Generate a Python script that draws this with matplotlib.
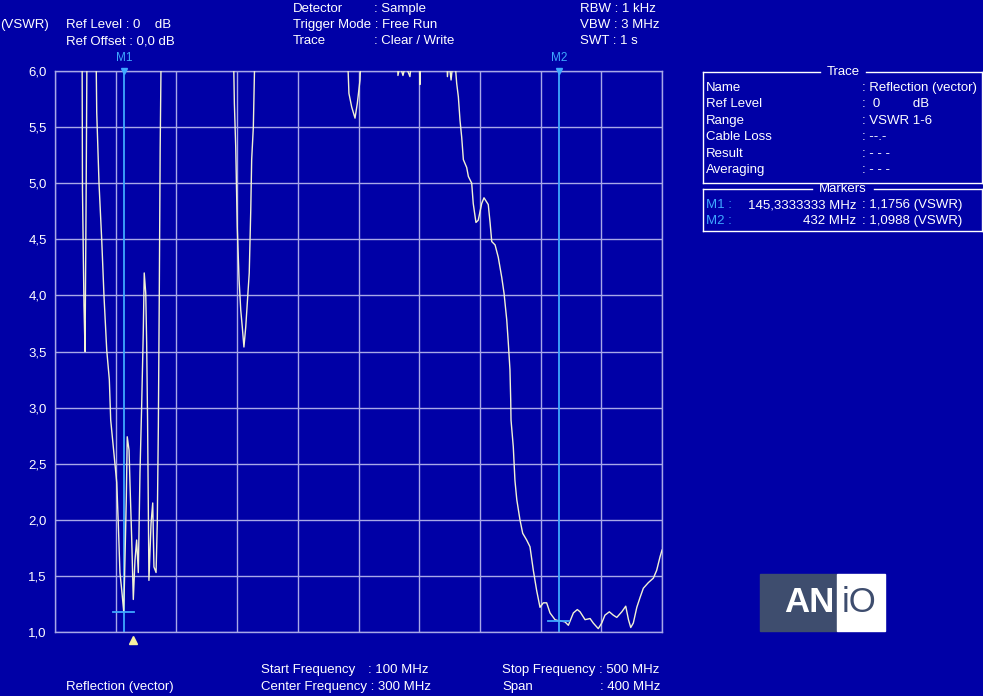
import matplotlib.pyplot as plt
import numpy as np
from matplotlib.patches import Rectangle
from matplotlib.lines import Line2D

# Trace data (frequency in MHz, VSWR); values above 6 are off-scale (clipped)
freq_mhz = [
    100.0, 117.8, 118.1, 119.1, 119.8, 120.5, 121.2,
    126.8, 127.5, 129.0, 130.8, 132.3, 134.1, 135.8, 136.7, 138.4, 140.7,
    141.7, 142.8, 144.0, 145.0, 145.3, 146.1, 147.0, 147.6, 148.8, 149.4,
    150.5, 151.6, 152.7, 153.8, 154.9, 156.0, 157.1, 158.2, 158.8, 159.8,
    160.4, 161.0, 161.9, 163.3, 164.4, 165.2, 166.6, 167.4, 168.1, 168.7,
    169.3, 170.2,
    217.2, 218.2, 219.1, 220.1, 221.3, 222.4, 223.4, 224.5, 225.7, 226.7,
    228.0, 229.0, 229.6, 230.7, 232.2,
    291.8, 293.7, 295.5, 297.7, 299.2, 301.0, 302.5,
    325.5, 326.0, 327.3, 329.3, 331.0, 333.9, 335.0, 340.0, 340.5, 341.0,
    358.1, 358.6, 359.5, 361.0, 362.0, 363.5,
    364.7, 365.8, 366.9, 368.0, 369.1, 371.3, 372.4, 374.6, 375.6, 377.4,
    378.9, 381.2, 382.7, 385.5, 386.7, 387.8, 390.0, 392.1, 394.4, 395.9,
    397.7, 398.7, 399.8, 400.3, 400.5, 402.0, 403.1, 404.3, 406.4, 408.2,
    410.8, 413.0, 415.2, 417.4, 419.6, 421.8, 424.0, 426.2, 429.5, 432.0,
    432.8, 436.1, 438.3, 441.6, 444.2, 446.0, 449.3, 452.6, 454.7, 458.0,
    460.3, 462.4, 465.3, 467.9, 470.2, 473.5, 476.1, 477.9, 479.4, 481.1,
    483.4, 485.6, 487.7, 491.0, 494.3, 496.5, 498.7, 500.0,
]
vswr = [
    6.5, 6.5, 4.94, 3.91, 3.50, 4.85, 6.5,
    6.5, 5.63, 5.00, 4.49, 3.99, 3.51, 3.25, 2.89, 2.65, 2.33,
    1.97, 1.53, 1.37, 1.22, 1.18, 1.64, 2.20, 2.74, 2.62, 2.33,
    1.85, 1.29, 1.64, 1.82, 1.53, 2.42, 3.01, 3.69, 4.20, 4.02,
    3.58, 2.89, 1.46, 1.97, 2.15, 1.58, 1.53, 1.97, 2.83, 3.96,
    5.30, 6.5,
    6.5, 5.71, 5.32, 4.61, 4.14, 3.87, 3.72, 3.54, 3.72, 3.93,
    4.20, 4.76, 5.21, 5.50, 6.5,
    6.5, 5.80, 5.68, 5.58, 5.71, 5.92, 6.5,
    6.3, 5.96, 6.05, 5.96, 6.05, 5.95, 6.1, 6.1, 5.88, 6.3,
    6.2, 5.95, 6.1, 5.92, 6.05, 6.1,
    5.89, 5.77, 5.56, 5.41, 5.21, 5.14, 5.06, 5.00, 4.82, 4.65,
    4.67, 4.82, 4.87, 4.81, 4.65, 4.48, 4.45, 4.34, 4.16, 4.02,
    3.78, 3.58, 3.34, 3.07, 2.89, 2.65, 2.35, 2.18, 2.00, 1.88,
    1.82, 1.76, 1.55, 1.37, 1.22, 1.26, 1.26, 1.17, 1.11, 1.099,
    1.10, 1.09, 1.06, 1.17, 1.20, 1.18, 1.11, 1.12, 1.08, 1.03,
    1.08, 1.15, 1.18, 1.15, 1.13, 1.18, 1.23, 1.11, 1.04, 1.08,
    1.22, 1.31, 1.39, 1.44, 1.48, 1.55, 1.67, 1.73,
]

marker_names = ["M1", "M2"]
marker_freq = [145.3333333, 432.0]
marker_vswr = [1.1756, 1.0988]
yticks = [1.0, 1.5, 2.0, 2.5, 3.0, 3.5, 4.0, 4.5, 5.0, 5.5, 6.0]

W, H = 983, 696
BG = "#0000a6"
GRID = "#a8a8e8"
TRACE = "#f2f2d4"
MARK = "#3fa8ff"
SLATE = "#3e4d6e"
FONT = "Liberation Sans"
FS = 9.5

fig = plt.figure(figsize=(W / 100, H / 100), dpi=100, facecolor=BG)


def ft(x, y, s, ha="left", color="white", size=FS, **kw):
    fig.text(x / W, 1 - y / H, s, ha=ha, va="center", color=color,
             fontsize=size, family=FONT, **kw)


ax = fig.add_axes([55 / W, 1 - 632 / H, (662 - 55) / W, (632 - 71) / H])
ax.set_facecolor(BG)
ax.set_xlim(100, 500)
ax.set_ylim(1, 6)
ax.set_xticks(np.arange(100, 501, 40))
ax.set_yticks(yticks)
ax.set_xticklabels([])
ax.set_yticklabels([f"{v:.1f}".replace(".", ",") for v in yticks],
                   color="white", fontsize=FS, family=FONT)
ax.tick_params(length=0, pad=6)
ax.grid(True, color=GRID, lw=1.0)
for s in ax.spines.values():
    s.set_color(GRID)
    s.set_linewidth(1.0)

ax.plot(freq_mhz, vswr, color=TRACE, lw=1.0, zorder=3)

# markers
for name, f, v in zip(marker_names, marker_freq, marker_vswr):
    ax.axvline(f, color=MARK, lw=1.3, zorder=2)
    ax.plot([f - 7, f + 7], [v, v], color=MARK, lw=1.3, zorder=4)
    ax.plot([f], [6.0], marker="v", color=MARK, ms=4.5, clip_on=False, zorder=5)
    ax.text(f, 6.06, name, color=MARK, fontsize=8.5, family=FONT,
            ha="center", va="bottom", clip_on=False)

# yellow reference triangle under the axis
ax.plot([151.2], [0.93], marker="^", color="#f8f0a0", ms=6, clip_on=False)

# header
ft(0, 25, "(VSWR)")
ft(66, 25, "Ref Level : 0    dB")
ft(66, 41, "Ref Offset : 0,0 dB")
ft(293, 9, "Detector")
ft(374, 9, ": Sample")
ft(293, 25, "Trigger Mode : Free Run")
ft(293, 41, "Trace")
ft(374, 41, ": Clear / Write")
ft(580, 9, "RBW : 1 kHz")
ft(580, 25, "VBW : 3 MHz")
ft(580, 41, "SWT : 1 s")

# footer
ft(66, 687, "Reflection (vector)")
ft(261, 670, "Start Frequency")
ft(368, 670, ": 100 MHz")
ft(261, 687, "Center Frequency : 300 MHz")
ft(502, 670, "Stop Frequency : 500 MHz")
ft(502, 687, "Span")
ft(600, 687, ": 400 MHz")


def frame(x0, y0, x1, y1, title, tx0, tx1):
    segs = [((x0, tx0), (y0, y0)), ((tx1, x1), (y0, y0)),
            ((x0, x0), (y0, y1)), ((x0, x1), (y1, y1)), ((x1, x1), (y0, y1))]
    for xs, ys in segs:
        fig.add_artist(Line2D([x / W for x in xs], [1 - y / H for y in ys],
                              color="white", lw=1.0))
    ft((tx0 + tx1) / 2, y0, title, ha="center")


# trace info panel
frame(703, 72, 982, 183, "Trace", 820, 866)
rows = [("Name", ": Reflection (vector)"), ("Ref Level", ":  0         dB"),
        ("Range", ": VSWR 1-6"), ("Cable Loss", ": --.-"),
        ("Result", ": - - -"), ("Averaging", ": - - -")]
for i, (k, v) in enumerate(rows):
    y = 88 + i * 16.4
    ft(706, y, k)
    ft(862, y, v)

frame(703, 189, 982, 231, "Markers", 812, 874)
for i, (name, f, v) in enumerate(zip(marker_names, marker_freq, marker_vswr)):
    y = 205 + i * 16
    ft(706, y, name + " :", color=MARK)
    fs = f"{f:.7f}".replace(".", ",") if i == 0 else f"{f:.0f}"
    ft(856, y, fs + " MHz", ha="right")
    ft(862, y, ": " + f"{v:.4f}".replace(".", ",") + " (VSWR)")

# logo
fig.add_artist(Rectangle((760 / W, 1 - 631 / H), 77 / W, 57 / H,
                         transform=fig.transFigure, color=SLATE))
fig.add_artist(Rectangle((837 / W, 1 - 631 / H), 48 / W, 57 / H,
                         transform=fig.transFigure, color="white"))
ft(809, 603, "AN", ha="center", size=25, weight="bold")
ft(859, 603, "iO", ha="center", size=25, color=SLATE)

fig.savefig("out.png", dpi=100, facecolor=BG)
